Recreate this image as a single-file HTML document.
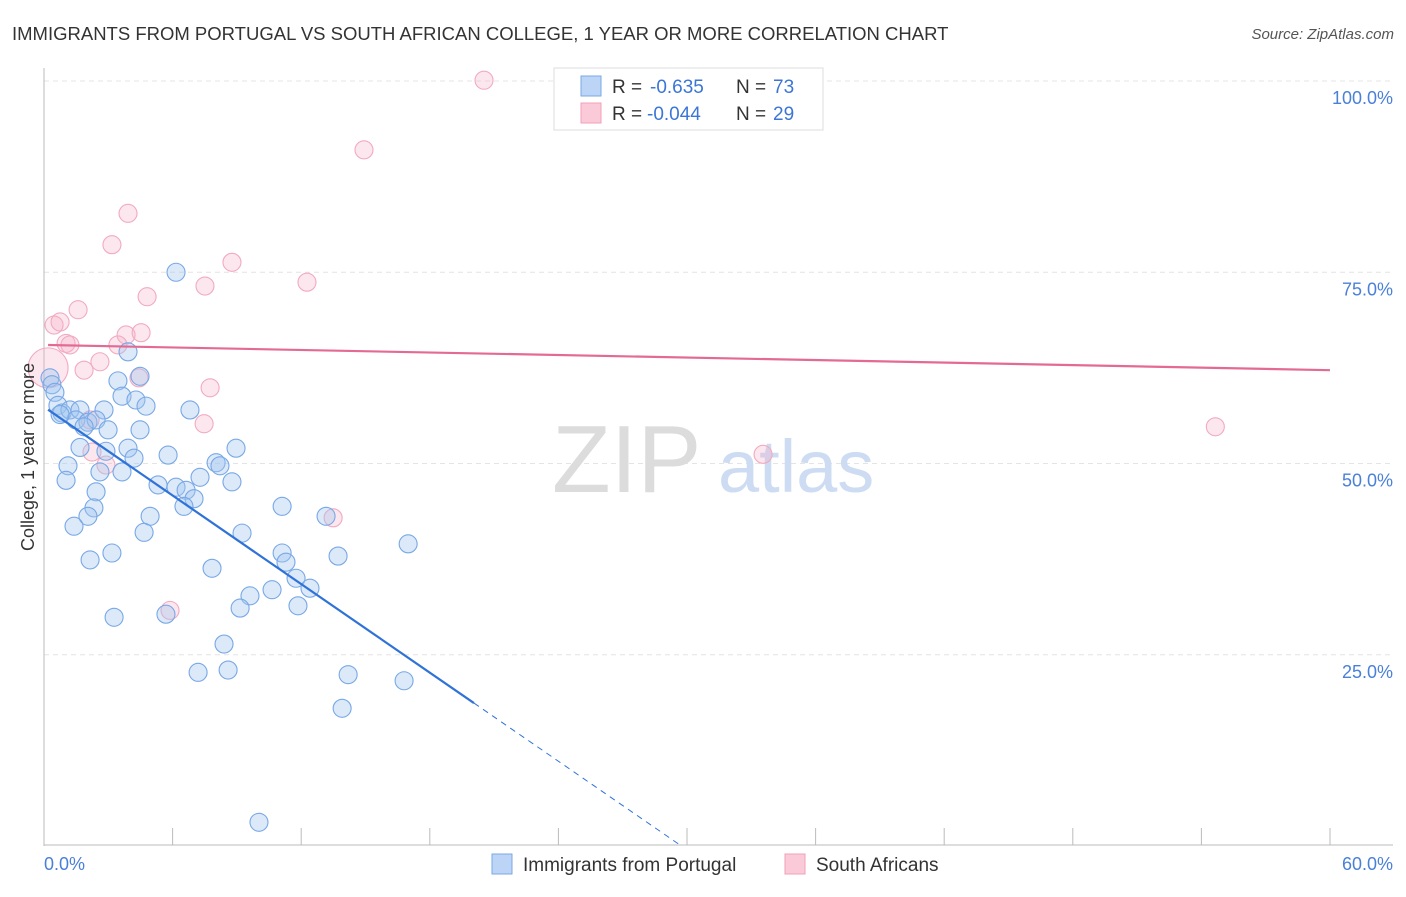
<!DOCTYPE html>
<html><head><meta charset="utf-8">
<style>
body{margin:0;background:#fff;font-family:"Liberation Sans",sans-serif;}
svg text{font-family:"Liberation Sans",sans-serif;}
</style></head>
<body>
<svg width="1406" height="892" viewBox="0 0 1406 892" xmlns="http://www.w3.org/2000/svg">
<text x="12" y="40" font-size="18.5" fill="#333">IMMIGRANTS FROM PORTUGAL VS SOUTH AFRICAN COLLEGE, 1 YEAR OR MORE CORRELATION CHART</text>
<text x="1394" y="39" font-size="15" fill="#555" text-anchor="end" font-style="italic">Source: ZipAtlas.com</text>
<g id="grid"></g>
<g>
<text x="552" y="492" font-size="96" fill="#dcdcdc" font-family="Liberation Serif, serif">ZIP</text>
<text x="718" y="492" font-size="74" fill="#cddcf2">atlas</text>
</g>
<g id="axes"></g>
<g id="pts"></g>
<g id="trend"></g>
<text transform="translate(34,457) rotate(-90)" font-size="18" fill="#333" text-anchor="middle">College, 1 year or more</text>
<g>
<rect x="554" y="68" width="269" height="62" fill="#fff" stroke="#ddd"/>
<rect x="581" y="76" width="20" height="20" fill="#bcd4f6" stroke="#7aa8e6"/>
<rect x="581" y="103" width="20" height="20" fill="#fbcad8" stroke="#f0a0b8"/>
<g font-size="19">
<text x="612" y="93" fill="#333">R =</text><text x="650" y="93" fill="#3b76d6">-0.635</text>
<text x="736" y="93" fill="#333">N =</text><text x="773" y="93" fill="#3b76d6">73</text></g>
<g font-size="19">
<text x="612" y="120" fill="#333">R =</text><text x="647" y="120" fill="#3b76d6">-0.044</text>
<text x="736" y="120" fill="#333">N =</text><text x="773" y="120" fill="#3b76d6">29</text></g>
</g>
<g>
<rect x="492" y="854" width="20" height="20" fill="#bcd4f6" stroke="#7aa8e6"/>
<text x="523" y="871" font-size="19" fill="#333">Immigrants from Portugal</text>
<rect x="785" y="854" width="20" height="20" fill="#fbcad8" stroke="#f0a0b8"/>
<text x="816" y="871" font-size="19" fill="#333">South Africans</text>
</g>
</svg>
<script>
const blueX=[6.16,3.92,3.45,4.48,0.28,0.37,0.51,3.64,4.29,4.76,0.65,0.84,1.21,1.68,2.80,6.81,1.49,2.05,2.43,2.99,1.68,3.92,8.96,2.89,4.20,5.79,8.03,8.21,1.12,2.61,3.64,7.28,8.77,1.03,5.32,6.16,6.63,2.43,7.00,6.53,11.11,4.95,13.16,2.33,2.05,1.40,4.67,9.24,16.99,3.17,11.11,13.72,2.15,11.29,7.84,11.76,12.41,10.64,9.61,9.15,11.85,3.27,5.69,8.40,7.19,8.59,14.19,16.80,13.91,10.03,0.75,1.87,4.48];
const blueY=[75.0,64.6,60.8,61.4,61.2,60.3,59.3,58.8,58.3,57.5,57.6,56.6,57.0,57.0,57.0,57.0,55.7,55.4,55.7,54.4,52.1,52.0,52.0,51.6,50.7,51.1,50.1,49.7,49.7,48.9,48.9,48.2,47.6,47.8,47.2,46.9,46.5,46.3,45.4,44.4,44.4,43.1,43.1,44.2,43.1,41.8,41.0,40.9,39.5,38.3,38.3,37.9,37.4,37.1,36.3,35.0,33.7,33.5,32.7,31.1,31.4,29.9,30.3,26.4,22.7,23.0,22.4,21.6,18.0,3.1,56.4,54.8,54.4];
const pinkX=[20.53,14.93,3.92,3.17,8.77,7.51,12.27,4.81,1.59,0.47,0.75,3.83,4.53,1.03,1.21,3.45,2.61,1.87,0.19,4.43,7.75,7.47,2.24,2.89,13.49,5.88,33.55,54.65,2.15];
const pinkY=[100.1,91.0,82.7,78.6,76.3,73.2,73.7,71.8,70.1,68.1,68.5,66.8,67.1,65.7,65.5,65.5,63.3,62.2,62.5,61.2,59.9,55.2,51.5,49.8,42.9,30.8,51.2,54.8,55.7];
const yTicks=[25,50,75,100];
const yTickLabels=["25.0%","50.0%","75.0%","100.0%"];
const xTicks=[0,6,12,18,24,30,36,42,48,54,60];
const blueTrend=[57.4,-1.93];
const pinkTrend=[65.5,-0.055];
const X0=44,X1=1330,Y0=846,Y1=81;
const sx=v=>X0+(v/60)*(X1-X0);
const sy=v=>Y0-(v/100)*(Y0-Y1);
const NS="http://www.w3.org/2000/svg";
function mk(tag,attrs,parent){const e=document.createElementNS(NS,tag);for(const k in attrs)e.setAttribute(k,attrs[k]);parent.appendChild(e);return e;}
const grid=document.getElementById('grid'),axes=document.getElementById('axes'),pts=document.getElementById('pts'),trend=document.getElementById('trend');
yTicks.forEach((t,i)=>{
 const l=mk('line',{x1:X0,x2:1393,y1:sy(t),y2:sy(t),stroke:'#e4e4e4','stroke-dasharray':'5,4'},grid);
 
 
 const tx=mk('text',{x:1393,y:sy(t)+23,'font-size':18,fill:'#4a80d8','text-anchor':'end'},axes);
 tx.textContent=yTickLabels[i];
 
 
});
let a=mk('line',{x1:X0,x2:X0,y1:68,y2:846,stroke:'#bbb'},axes);


a=mk('line',{x1:X0,x2:1393,y1:845,y2:845,stroke:'#bbb'},axes);


xTicks.forEach(t=>{
 const l=mk('line',{x1:sx(t),x2:sx(t),y1:828,y2:845,stroke:'#bbb'},axes);
 
 
});
let t0=mk('text',{x:44,y:870,'font-size':18,fill:'#4a80d8'},axes);t0.textContent='0.0%';


t0=mk('text',{x:1393,y:870,'font-size':18,fill:'#4a80d8','text-anchor':'end'},axes);t0.textContent='60.0%';


pinkX.forEach((x,i)=>{
 const r=(i===18)?20:9;
 const c=mk('circle',{cx:sx(x),cy:sy(pinkY[i]),r:r,fill:'rgba(246,175,198,0.3)',stroke:'#f2aac0','stroke-width':1.1},pts);
 
 
});
blueX.forEach((x,i)=>{
 const c=mk('circle',{cx:sx(x),cy:sy(blueY[i]),r:9,fill:'rgba(160,196,240,0.38)',stroke:'#78a8e6','stroke-width':1.1},pts);
 
 
});
const bx0=0.19,bx1=20.06,bx2=-blueTrend[0]/blueTrend[1];
let ln=mk('line',{x1:sx(bx0),y1:sy(blueTrend[0]+blueTrend[1]*bx0),x2:sx(bx1),y2:sy(blueTrend[0]+blueTrend[1]*bx1),stroke:'#2f72d8','stroke-width':2.2},trend);


ln=mk('line',{x1:sx(bx1),y1:sy(blueTrend[0]+blueTrend[1]*bx1),x2:sx(bx2),y2:sy(0),stroke:'#2f72d8','stroke-width':1,'stroke-dasharray':'6,5'},trend);


ln=mk('line',{x1:sx(0.19),y1:sy(pinkTrend[0]+pinkTrend[1]*0.19),x2:sx(60),y2:sy(pinkTrend[0]+pinkTrend[1]*60),stroke:'#e46a93','stroke-width':2.2},trend);


</script>
</body></html>
